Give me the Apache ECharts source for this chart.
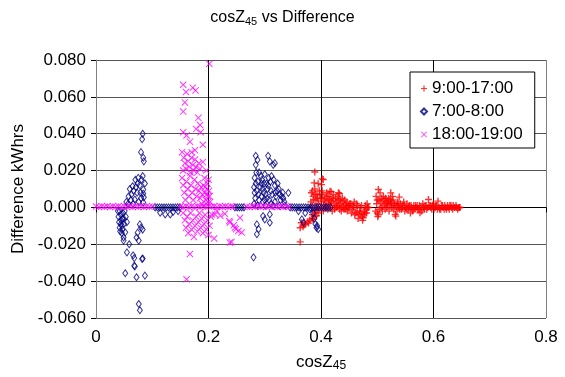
<!DOCTYPE html>
<html>
<head>
<meta charset="utf-8">
<script src="https://cdn.jsdelivr.net/npm/echarts@6/dist/echarts.min.js"></script>
<style>
  html, body { margin: 0; padding: 0; background: #fff; }
  #chart { width: 565px; height: 377px; }
</style>
</head>
<body>
<div id="chart"></div>
<script>
const seriesNames = ['9:00-17:00', '7:00-8:00', '18:00-19:00']
const xTicks = [0, 0.2, 0.4, 0.6, 0.8]
const yTicks = [-0.06, -0.04, -0.02, 0, 0.02, 0.04, 0.06, 0.08]

// 9:00-17:00  [cosZ45, difference]
const dayPoints = [
  [0.363, -0.0187], [0.363, -0.011], [0.365, -0.0083], [0.368, -0.0105], [0.370, -0.0095], [0.372, -0.009],
  [0.376, -0.0078], [0.378, -0.0085], [0.380, -0.007], [0.384, -0.006], [0.386, -0.0065], [0.388, -0.005], [0.392, -0.0045],
  [0.389, 0.0192], [0.388, 0.0133], [0.395, 0.0129], [0.401, 0.0124], [0.404, 0.0151], [0.402, 0.0155],
  [0.416, 0.0088], [0.418, 0.0085], [0.431, 0.008], [0.433, 0.0074],
  [0.383, 0.008], [0.386, 0.006], [0.389, 0.010], [0.391, 0.004], [0.393, 0.007], [0.395, 0.002], [0.397, 0.009],
  [0.399, 0.005], [0.401, 0.003], [0.403, 0.007], [0.405, 0.001], [0.407, 0.005], [0.409, 0.003], [0.411, 0.006],
  [0.413, 0.002], [0.415, 0.004], [0.417, 0.001], [0.419, 0.003], [0.421, 0.005], [0.423, 0.002], [0.425, 0.000],
  [0.427, 0.003], [0.429, 0.001], [0.431, 0.004], [0.433, -0.001], [0.435, 0.002], [0.437, 0.000], [0.439, 0.003],
  [0.441, -0.001], [0.443, 0.002], [0.445, 0.001], [0.447, -0.002], [0.449, 0.001], [0.451, 0.002],
  [0.384, 0.001], [0.388, -0.002], [0.392, 0.000], [0.396, -0.001], [0.400, 0.000], [0.404, -0.002], [0.408, 0.000],
  [0.412, -0.001], [0.416, 0.000], [0.420, -0.002], [0.424, -0.001], [0.428, 0.000], [0.432, 0.001], [0.436, -0.002],
  [0.440, 0.000], [0.444, -0.001], [0.448, 0.000],
  [0.382, 0.003], [0.385, 0.009], [0.387, 0.004], [0.390, 0.007], [0.394, 0.005], [0.398, 0.007], [0.402, 0.009],
  [0.406, 0.004], [0.410, 0.008], [0.414, 0.006], [0.418, 0.004], [0.422, 0.007], [0.426, 0.005], [0.430, 0.006],
  [0.434, 0.004], [0.438, 0.005], [0.442, 0.004], [0.446, 0.003], [0.450, 0.000], [0.385, -0.004], [0.390, -0.003],
  [0.395, -0.003],
  [0.453, 0.002], [0.456, -0.001], [0.459, 0.003], [0.462, -0.003], [0.465, 0.001], [0.468, -0.004], [0.470, 0.000],
  [0.473, -0.005], [0.475, -0.0056], [0.477, -0.002], [0.479, 0.001], [0.481, -0.003], [0.483, 0.000], [0.458, 0.000],
  [0.464, -0.002], [0.471, -0.003], [0.476, -0.004], [0.480, -0.001], [0.485, 0.000],
  [0.454, -0.003], [0.457, 0.001], [0.460, -0.004], [0.463, 0.002], [0.466, -0.006], [0.469, -0.002], [0.472, 0.001],
  [0.474, -0.007], [0.478, -0.003], [0.482, 0.002],
  [0.498, 0.006], [0.499, 0.002], [0.500, -0.003], [0.501, -0.005], [0.502, 0.0097], [0.503, 0.004], [0.504, -0.001],
  [0.505, 0.0079], [0.506, 0.003], [0.508, 0.005], [0.510, 0.001], [0.512, 0.004], [0.514, -0.001], [0.516, 0.003],
  [0.518, 0.002], [0.520, 0.005], [0.522, 0.001], [0.524, 0.0079], [0.524, 0.003], [0.526, 0.000], [0.528, 0.004],
  [0.530, 0.002], [0.532, -0.0038], [0.533, -0.0047], [0.534, 0.001], [0.536, 0.003], [0.538, 0.000], [0.539, 0.0056],
  [0.497, -0.002], [0.500, 0.004], [0.502, -0.004], [0.507, 0.000], [0.509, -0.002], [0.511, 0.006], [0.513, 0.002],
  [0.515, 0.005], [0.517, 0.000], [0.519, 0.003], [0.521, -0.002], [0.523, 0.004], [0.525, 0.002], [0.527, 0.006],
  [0.529, -0.001], [0.531, 0.001], [0.535, -0.002], [0.537, 0.002],
  [0.541, 0.002], [0.543, -0.001], [0.545, 0.001], [0.547, 0.003], [0.549, -0.002], [0.551, 0.000], [0.553, 0.002],
  [0.555, -0.001], [0.557, 0.001], [0.559, -0.003], [0.561, 0.000], [0.563, -0.002], [0.565, 0.001], [0.567, -0.001],
  [0.540, -0.001], [0.544, 0.000], [0.548, 0.001], [0.552, -0.001], [0.556, 0.000], [0.560, 0.001], [0.564, -0.001],
  [0.568, 0.001],
  [0.569, 0.000], [0.571, 0.001], [0.574, -0.001], [0.576, -0.0029], [0.578, 0.000], [0.581, 0.002], [0.584, -0.001],
  [0.587, 0.001], [0.590, 0.000], [0.591, 0.0043], [0.594, 0.001], [0.597, -0.001], [0.600, 0.002], [0.603, 0.000],
  [0.606, 0.001], [0.608, 0.0034], [0.611, -0.001], [0.614, 0.001], [0.617, 0.000], [0.620, 0.001], [0.623, -0.001],
  [0.626, 0.000], [0.629, 0.001], [0.632, 0.000], [0.635, 0.001], [0.638, 0.000], [0.641, 0.000], [0.644, 0.000], [0.647, 0.000],
  [0.572, -0.001], [0.575, 0.001], [0.579, -0.002], [0.582, 0.000], [0.585, 0.001], [0.588, -0.001], [0.592, 0.001],
  [0.595, 0.000], [0.598, 0.001], [0.601, -0.001], [0.604, 0.001], [0.607, -0.001], [0.610, 0.000], [0.613, -0.001],
  [0.616, 0.001], [0.619, -0.001], [0.622, 0.000], [0.625, 0.001], [0.628, -0.001], [0.631, 0.001], [0.634, -0.001],
  [0.637, 0.000], [0.640, 0.001], [0.643, -0.001], [0.646, 0.000]
]

// 7:00-8:00
const morningPoints = [
  [0.083, 0.040], [0.082, 0.037], [0.080, 0.030], [0.084, 0.027], [0.085, 0.025], [0.075, 0.016], [0.083, 0.017],
  [0.065, 0.0115], [0.063, 0.007], [0.069, 0.0043], [0.084, 0.0097], [0.084, 0.0075], [0.085, 0.0055], [0.084, 0.0027],
  [0.070, 0.015], [0.078, 0.012], [0.060, 0.010], [0.058, 0.006], [0.073, 0.008], [0.080, 0.005], [0.087, 0.013],
  [0.076, 0.003], [0.066, 0.002], [0.054, 0.003], [0.081, 0.015], [0.071, 0.011], [0.067, 0.009], [0.074, 0.013],
  [0.079, 0.008], [0.062, 0.004], [0.057, 0.002],
  [0.039, -0.002], [0.040, -0.005], [0.041, -0.008], [0.042, -0.011], [0.043, -0.013], [0.044, -0.004], [0.045, -0.007],
  [0.046, -0.010], [0.047, -0.012], [0.048, -0.003], [0.049, -0.006], [0.050, -0.009], [0.052, -0.0135], [0.053, -0.005],
  [0.055, -0.008], [0.049, -0.0163], [0.049, -0.018], [0.078, -0.0092], [0.080, -0.011], [0.083, -0.012], [0.074, -0.0137],
  [0.072, -0.0163], [0.076, -0.018], [0.059, -0.020], [0.055, -0.0244], [0.066, -0.026], [0.068, -0.0275], [0.083, -0.0277],
  [0.068, -0.0316], [0.052, -0.0357], [0.072, -0.0379], [0.087, -0.037], [0.076, -0.0524], [0.078, -0.0558], [0.082, -0.028],
  [0.069, -0.032], [0.042, -0.002], [0.044, -0.009], [0.047, -0.006], [0.051, -0.002], [0.046, -0.014],
  [0.105, 0.000], [0.109, 0.000], [0.113, 0.000], [0.117, 0.000], [0.121, 0.000], [0.125, 0.000], [0.129, 0.000],
  [0.133, 0.000], [0.137, 0.000], [0.141, 0.000], [0.145, 0.000], [0.149, 0.000], [0.114, -0.0029], [0.123, -0.0038],
  [0.132, -0.0038], [0.137, -0.0025], [0.146, -0.002],
  [0.247, 0.000], [0.251, 0.000], [0.255, 0.000], [0.259, 0.000], [0.263, 0.000],
  [0.284, 0.028], [0.287, 0.0258], [0.284, 0.0231], [0.306, 0.028], [0.309, 0.025], [0.315, 0.0231], [0.318, 0.024],
  [0.290, 0.019], [0.300, 0.018], [0.312, 0.017], [0.282, 0.016], [0.288, 0.014], [0.295, 0.015], [0.303, 0.013],
  [0.310, 0.014], [0.318, 0.012], [0.325, 0.010], [0.332, 0.008], [0.342, 0.0079], [0.281, 0.011], [0.286, 0.009],
  [0.292, 0.011], [0.298, 0.008], [0.305, 0.010], [0.313, 0.007], [0.320, 0.006], [0.328, 0.004], [0.335, 0.003],
  [0.283, 0.005], [0.290, 0.004], [0.297, 0.003], [0.304, 0.005], [0.311, 0.002], [0.318, 0.003], [0.326, 0.001],
  [0.281, 0.002], [0.287, 0.001], [0.294, 0.006], [0.301, 0.001], [0.308, 0.004], [0.315, 0.001], [0.322, 0.009],
  [0.330, 0.006], [0.336, 0.001], [0.293, 0.017], [0.299, 0.013], [0.307, 0.016], [0.296, 0.010], [0.302, 0.007],
  [0.285, 0.019], [0.316, 0.015], [0.323, 0.013], [0.284, 0.013], [0.289, 0.007], [0.294, 0.013], [0.300, 0.004],
  [0.306, 0.012], [0.311, 0.009], [0.319, 0.008], [0.327, 0.007], [0.333, 0.005], [0.282, 0.008],
  [0.297, -0.0047], [0.300, -0.0065], [0.309, -0.0038], [0.286, -0.0092], [0.289, -0.0118], [0.286, -0.0145],
  [0.280, -0.0271], [0.309, -0.0083], [0.366, -0.0065], [0.369, -0.0082], [0.393, -0.010], [0.395, -0.0118],
  [0.386, -0.003], [0.388, -0.006], [0.390, -0.009], [0.392, -0.011],
  [0.345, 0.000], [0.349, 0.000], [0.353, 0.000], [0.357, 0.000], [0.361, 0.000], [0.365, 0.000], [0.369, 0.000],
  [0.373, 0.000], [0.377, 0.000], [0.381, 0.000], [0.385, 0.000], [0.389, 0.000], [0.393, 0.000], [0.397, 0.000],
  [0.401, 0.000], [0.405, 0.000], [0.409, 0.000], [0.413, 0.000], [0.417, 0.000], [0.360, -0.002], [0.372, -0.003], [0.380, -0.001]
]

// 18:00-19:00
const eveningPoints = [
  [0.000, 0.0005], [0.005, 0.0003], [0.010, 0.0007], [0.015, 0.0004], [0.020, 0.0006], [0.025, 0.0003], [0.030, 0.0007],
  [0.035, 0.0004], [0.040, 0.0006], [0.045, 0.0003], [0.050, 0.0007], [0.055, 0.0004], [0.060, 0.0006], [0.065, 0.0003],
  [0.070, 0.0007], [0.075, 0.0004], [0.080, 0.0006], [0.085, 0.0003], [0.090, 0.0007], [0.095, 0.0004], [0.100, 0.0006],
  [0.150, 0.0005], [0.155, 0.0003], [0.160, 0.0007], [0.165, 0.0004], [0.170, 0.0006], [0.175, 0.0003], [0.180, 0.0007],
  [0.185, 0.0004], [0.190, 0.0006], [0.195, 0.0003], [0.200, 0.0007], [0.205, 0.0004], [0.210, 0.0006], [0.215, 0.0003],
  [0.220, 0.0007], [0.225, 0.0004], [0.230, 0.0006], [0.235, 0.0003], [0.240, 0.0007], [0.244, 0.0004],
  [0.268, 0.0005], [0.273, 0.0003], [0.278, 0.0007], [0.283, 0.0004], [0.288, 0.0006], [0.293, 0.0003], [0.298, 0.0007],
  [0.303, 0.0004], [0.308, 0.0006], [0.313, 0.0003], [0.318, 0.0007], [0.323, 0.0004], [0.328, 0.0006], [0.333, 0.0003],
  [0.338, 0.0007], [0.343, 0.0004],
  [0.2015, 0.078], [0.155, 0.0666], [0.160, 0.0626], [0.172, 0.065], [0.177, 0.0635], [0.158, 0.057], [0.155, 0.052],
  [0.182, 0.0486], [0.185, 0.0447], [0.178, 0.0425], [0.186, 0.0408], [0.155, 0.0408], [0.161, 0.039], [0.167, 0.0357],
  [0.176, 0.031], [0.190, 0.034], [0.190, 0.0246], [0.196, 0.020],
  [0.153, 0.030], [0.156, 0.027], [0.158, 0.024], [0.160, 0.021], [0.162, 0.029], [0.164, 0.025], [0.166, 0.022],
  [0.168, 0.019], [0.170, 0.027], [0.172, 0.023], [0.174, 0.020], [0.176, 0.026], [0.178, 0.022], [0.180, 0.019],
  [0.183, 0.024], [0.185, 0.021], [0.155, 0.020], [0.170, 0.030],
  [0.153, 0.016], [0.155, 0.012], [0.157, 0.008], [0.159, 0.004], [0.161, 0.014], [0.163, 0.010], [0.165, 0.006],
  [0.167, 0.017], [0.169, 0.012], [0.171, 0.008], [0.173, 0.004], [0.175, 0.015], [0.177, 0.010], [0.179, 0.006],
  [0.181, 0.013], [0.183, 0.009], [0.185, 0.005], [0.187, 0.011], [0.189, 0.007], [0.191, 0.012], [0.193, 0.008],
  [0.195, 0.004], [0.197, 0.010], [0.199, 0.006], [0.201, 0.009], [0.198, 0.013], [0.193, 0.016], [0.188, 0.002],
  [0.196, 0.002], [0.203, 0.003], [0.200, 0.015], [0.194, 0.011], [0.199, 0.003], [0.202, 0.006], [0.197, 0.007],
  [0.155, -0.003], [0.158, -0.007], [0.160, -0.011], [0.162, -0.005], [0.164, -0.014], [0.166, -0.009], [0.168, -0.003],
  [0.170, -0.012], [0.172, -0.007], [0.174, -0.016], [0.176, -0.010], [0.178, -0.005], [0.180, -0.013], [0.182, -0.008],
  [0.184, -0.003], [0.186, -0.011], [0.188, -0.006], [0.190, -0.014], [0.192, -0.009], [0.194, -0.004], [0.196, -0.012],
  [0.198, -0.007], [0.200, -0.015], [0.202, -0.010], [0.204, -0.005], [0.167, -0.0253], [0.161, -0.039], [0.210, -0.0169],
  [0.206, -0.0038], [0.2116, -0.0038], [0.229, -0.0034], [0.238, -0.0082], [0.249, -0.0118], [0.245, -0.0097],
  [0.241, -0.0187], [0.237, -0.0074], [0.256, -0.0056], [0.247, -0.011], [0.259, -0.0136], [0.238, -0.019],
  [0.253, -0.0128], [0.221, -0.0045], [0.215, -0.002]
]

const font = 'Arial, "Liberation Sans", sans-serif'
const plusPath = 'path://M4,0L6,0L6,10L4,10ZM0,4L10,4L10,6L0,6Z'
const crossPath = 'path://M0,1L1,0L10,9L9,10ZM9,0L10,1L1,10L0,9Z'

const chart = echarts.init(document.getElementById('chart'))
chart.setOption({
  animation: false,
  backgroundColor: '#fff',
  textStyle: { fontFamily: font, color: '#000' },
  title: {
    text: '{a|cosZ}{s|45}{a| vs Difference}',
    left: 'center',
    top: 3,
    textStyle: {
      fontWeight: 'normal',
      rich: {
        a: { fontSize: 16, fontFamily: font, fontWeight: 'normal', color: '#000', lineHeight: 20 },
        s: { fontSize: 11, fontFamily: font, fontWeight: 'normal', color: '#000', lineHeight: 20, padding: [8, 0, 0, 0] }
      }
    }
  },
  grid: { left: 96, right: 19, top: 60, bottom: 57 },
  legend: {
    orient: 'vertical',
    left: 410,
    top: 72,
    padding: [8, 12, 5, 10],
    itemGap: 6,
    itemWidth: 6,
    itemHeight: 6,
    borderColor: '#000',
    borderWidth: 1,
    backgroundColor: '#fff',
    textStyle: { fontSize: 17, fontFamily: font, color: '#000' },
    data: seriesNames
  },
  xAxis: {
    type: 'value',
    min: xTicks[0],
    max: xTicks[xTicks.length - 1],
    interval: 0.2,
    name: '{a|cosZ}{s|45}',
    nameLocation: 'middle',
    nameGap: 34,
    nameTextStyle: {
      rich: {
        a: { fontSize: 17, fontFamily: font, color: '#000', lineHeight: 20 },
        s: { fontSize: 12, fontFamily: font, color: '#000', lineHeight: 20, padding: [8, 0, 0, 0] }
      }
    },
    axisLine: { show: true, lineStyle: { color: '#000' } },
    axisTick: { show: true, length: 5, lineStyle: { color: '#000' } },
    axisLabel: { fontSize: 17, color: '#000', margin: 11, formatter: v => String(v) },
    splitLine: { show: true, lineStyle: { color: ['#808080', '#000', '#000', '#000', '#808080'] } }
  },
  yAxis: {
    type: 'value',
    min: yTicks[0],
    max: yTicks[yTicks.length - 1],
    interval: 0.02,
    name: 'Difference kWhrs',
    nameLocation: 'middle',
    nameGap: 68,
    nameTextStyle: { fontSize: 17, color: '#000' },
    axisLine: { show: true, lineStyle: { color: '#808080' } },
    axisTick: { show: true, length: 5, lineStyle: { color: '#000' } },
    axisLabel: { fontSize: 17, color: '#000', margin: 10, formatter: v => v.toFixed(3) },
    splitLine: { show: true, lineStyle: { color: '#555' } }
  },
  series: [
    {
      name: seriesNames[0],
      type: 'scatter',
      symbol: plusPath,
      symbolSize: 7,
      itemStyle: { color: '#ff0000' },
      data: dayPoints
    },
    {
      name: seriesNames[1],
      type: 'scatter',
      symbol: 'diamond',
      symbolSize: [5, 7],
      itemStyle: { color: 'rgba(0,0,0,0)', borderColor: '#000080', borderWidth: 1 },
      data: morningPoints
    },
    {
      name: seriesNames[2],
      type: 'scatter',
      symbol: crossPath,
      symbolSize: 7,
      itemStyle: { color: '#ff00ff' },
      data: eveningPoints
    }
  ]
})
</script>
</body>
</html>
